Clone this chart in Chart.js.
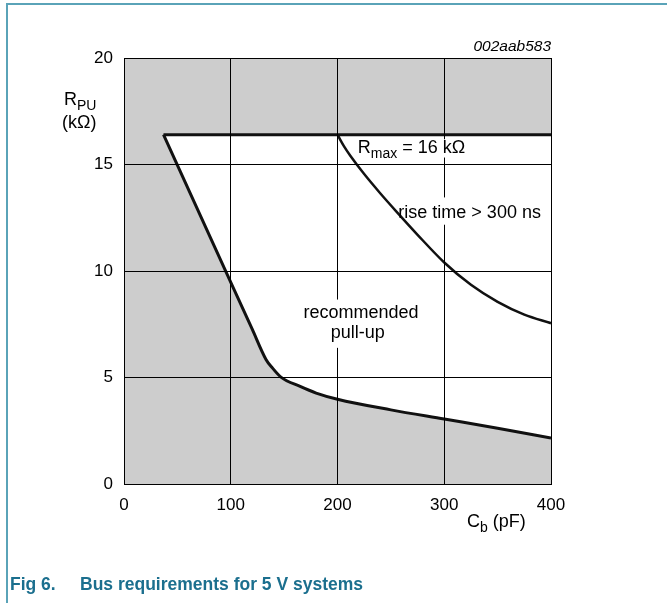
<!DOCTYPE html>
<html>
<head>
<meta charset="utf-8">
<script src="https://cdn.jsdelivr.net/npm/chart.js@4.4.1/dist/chart.umd.min.js"></script>
<style>
  html, body { margin: 0; padding: 0; background: #fff; }
  #wrap { position: relative; width: 667px; height: 603px; overflow: hidden; }
  #frame { position: absolute; left: 6px; top: 3px; width: 700px; height: 700px;
           border-left: 2px solid #5aa3b8; border-top: 2px solid #5aa3b8; }
  #chart { position: absolute; left: 0; top: 0; }
  .cap { position: absolute; top: 574px; line-height: 17px; white-space: pre;
         font: bold 17.5px "Liberation Sans", Arial, sans-serif; color: #1b6f8e; }
</style>
</head>
<body>
<div id="wrap">
  <div id="frame"></div>
  <canvas id="chart" width="667" height="603"></canvas>
  <div class="cap" style="left:10px">Fig 6.</div>
  <div class="cap" style="left:80px">Bus requirements for 5 V systems</div>
</div>
<script>
// Cb in pF, R in kOhm
const rmaxC = [37, 400];
const rmaxR = [16.4, 16.4];

const pullupC = [37, 85, 120, 133, 139, 147, 165, 180, 200, 250, 300, 350, 400];
const pullupR = [16.4, 11.12, 7.28, 5.85, 5.45, 5.02, 4.58, 4.27, 3.98, 3.48, 3.05, 2.62, 2.16];

const riseC = [200, 206, 212, 225, 240, 255, 275, 300, 325, 350, 375, 400];
const riseR = [16.4, 15.86, 15.41, 14.55, 13.65, 12.8, 11.7, 10.4, 9.35, 8.55, 7.95, 7.55];

const xTicks = [0, 100, 200, 300, 400];
const yTicks = [0, 5, 10, 15, 20];

const FONT = '"Liberation Sans", Arial, sans-serif';
const INK = '#111';
const SHADE = '#cdcdcd';

const pts = (xs, ys) => xs.map((x, i) => ({ x, y: ys[i] }));

// grey plot background; the white "allowed" area is a fill between datasets
const shadePlugin = {
  id: 'shade',
  beforeDraw(chart) {
    const { ctx, chartArea: a } = chart;
    ctx.save();
    ctx.fillStyle = SHADE;
    ctx.fillRect(a.left, a.top, a.right - a.left, a.bottom - a.top);
    ctx.restore();
  },
};

// parts: [[text, isSub], ...]; pad = [top, right, bottom, left] for a white box, or null
function subText(ctx, x, y, parts, size, align, pad) {
  const subSize = Math.round(size * 0.8);
  const widths = parts.map(([t, sub]) => {
    ctx.font = `${sub ? subSize : size}px ${FONT}`;
    return ctx.measureText(t).width;
  });
  const total = widths.reduce((a, b) => a + b, 0);
  let cx = align === 'center' ? x - total / 2 : x;
  if (pad) {
    ctx.fillStyle = '#fff';
    const top = y - size * 0.74 - pad[0];
    const bottom = y + size * 0.22 + pad[2];
    ctx.fillRect(cx - pad[3], top, total + pad[1] + pad[3], bottom - top);
    ctx.fillStyle = '#000';
  }
  ctx.textAlign = 'left';
  parts.forEach(([t, sub], i) => {
    ctx.font = `${sub ? subSize : size}px ${FONT}`;
    ctx.fillText(t, cx, sub ? y + size * 0.28 : y);
    cx += widths[i];
  });
}

const labelPlugin = {
  id: 'labels',
  afterDraw(chart) {
    const { ctx } = chart;
    const xs = chart.scales.x, ys = chart.scales.y;
    ctx.save();
    ctx.fillStyle = '#000';
    ctx.textBaseline = 'alphabetic';
    subText(ctx, xs.getPixelForValue(219), ys.getPixelForValue(15.56),
      [['R', false], ['max', true], [' = 16 kΩ', false]], 18, 'left', [0, 3, 1, 3]);
    subText(ctx, xs.getPixelForValue(257), ys.getPixelForValue(12.5),
      [['rise time > 300 ns', false]], 18, 'left', [7, 3, 3, -16]);
    subText(ctx, xs.getPixelForValue(222), ys.getPixelForValue(7.8),
      [['recommended', false]], 18, 'center', [5, 3, 4, 3]);
    subText(ctx, xs.getPixelForValue(219), ys.getPixelForValue(6.86),
      [['pull-up', false]], 18, 'center', [2, 3, 6, 3]);

    // axis titles
    subText(ctx, 64, 105, [['R', false], ['PU', true]], 18, 'left');
    subText(ctx, 62, 128, [['(kΩ)', false]], 18, 'left');
    subText(ctx, 467, 527, [['C', false], ['b', true], [' (pF)', false]], 18, 'left');

    ctx.font = `italic 15.5px ${FONT}`;
    ctx.textAlign = 'right';
    ctx.fillText('002aab583', xs.right, 51);
    ctx.restore();
  },
};

new Chart(document.getElementById('chart'), {
  type: 'line',
  data: {
    datasets: [
      {
        label: 'Rmax',
        data: pts(rmaxC, rmaxR),
        borderColor: INK,
        borderWidth: 3,
        pointRadius: 0,
        fill: false,
      },
      {
        label: 'pull-up',
        data: pts(pullupC, pullupR),
        borderColor: INK,
        borderWidth: 3,
        pointRadius: 0,
        cubicInterpolationMode: 'monotone',
        backgroundColor: '#ffffff',
        fill: 0,
      },
      {
        label: 'rise time',
        data: pts(riseC, riseR),
        borderColor: INK,
        borderWidth: 2.5,
        pointRadius: 0,
        cubicInterpolationMode: 'monotone',
        fill: false,
      },
    ],
  },
  options: {
    responsive: false,
    animation: false,
    events: [],
    layout: { padding: { left: 0, top: 58, right: 116, bottom: 79 } },
    plugins: {
      legend: { display: false },
      tooltip: { enabled: false },
      filler: { propagate: false, drawTime: 'beforeDatasetsDraw' },
    },
    scales: {
      x: {
        type: 'linear',
        min: 0,
        max: 400,
        afterBuildTicks: (s) => { s.ticks = xTicks.map((v) => ({ value: v })); },
        afterFit: (s) => { s.height = 40; },
        ticks: { color: '#000', padding: 11, font: { family: FONT, size: 17 } },
        grid: { color: '#000', lineWidth: 1, drawTicks: false, z: 1 },
        border: { color: '#000', width: 1, z: 1 },
      },
      y: {
        min: 0,
        max: 20,
        afterBuildTicks: (s) => { s.ticks = yTicks.map((v) => ({ value: v })); },
        afterFit: (s) => { s.width = 124; },
        ticks: { color: '#000', padding: 11, font: { family: FONT, size: 17 } },
        grid: { color: '#000', lineWidth: 1, drawTicks: false, z: 1 },
        border: { color: '#000', width: 1, z: 1 },
      },
    },
  },
  plugins: [shadePlugin, labelPlugin],
});
</script>
</body>
</html>
